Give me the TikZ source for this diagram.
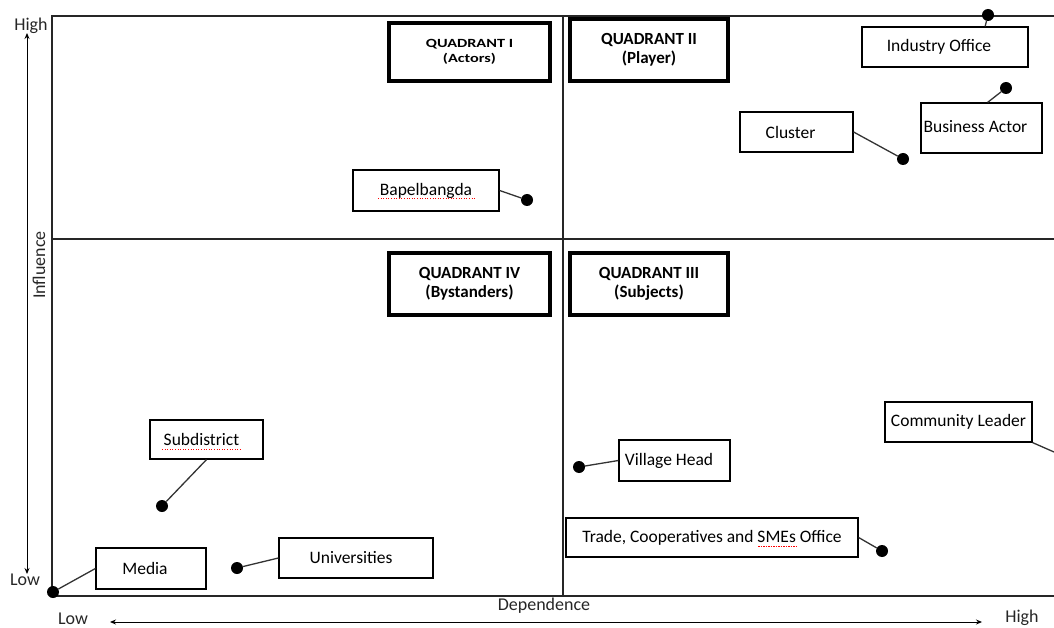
\documentclass[tikz,border=0pt]{standalone}
\usepackage{fontspec}
\setmainfont{Carlito}
\usetikzlibrary{arrows.meta,calc}
\tikzset{
  frame/.style={line width=1.4pt, draw=black!85},
  quad/.style={draw, line width=3.6pt, inner sep=0pt, align=center, font=\fontsize{17}{19}\selectfont\bfseries},
  lab/.style={draw, line width=1.2pt, inner sep=0pt, font=\fontsize{17.5}{19}\selectfont},
  dot/.style={circle, fill=black, inner sep=0pt, minimum size=12pt},
  conn/.style={line width=1.3pt, draw=black!80},
  axl/.style={font=\fontsize{18}{19}\selectfont, text=black!85},
  spell/.style={red, line width=0.8pt, dash pattern=on 1pt off 1.6pt},
  dbl/.style={line width=0.9pt, {Stealth[length=6pt,width=5pt]}-{Stealth[length=6pt,width=5pt]}}
}
\begin{document}
\begin{tikzpicture}[x=1pt,y=-1pt]
\useasboundingbox (0,0) rectangle (1054,628);
% frame
\coordinate (tl) at (52,16);
\coordinate (tr) at (1054,16);
\coordinate (bl) at (52,596);
\coordinate (br) at (1054,596);
\coordinate (mt) at (563,16);
\coordinate (mb) at (563,596);
\coordinate (ml) at (52,239);
\coordinate (mr) at (1054,239);
\draw[frame] (tr) -- (tl) -- (bl) -- (br);
\draw[frame] (mt) -- (mb);
\draw[frame] (ml) -- (mr);
% axes
\node[axl] (hiY) at (31,26) {High};
\node[axl] (loY) at (25,580) {Low};
\coordinate (ya) at (27,33);
\coordinate (yb) at (27,574);
\draw[dbl] (ya) -- (yb);
\node[axl, rotate=90] (infl) at (39,265) {Influence};
\node[axl] (loX) at (73,619) {Low};
\node[axl] (hiX) at (1022,618) {High};
\coordinate (xa) at (110,622);
\coordinate (xb) at (982,622);
\draw[dbl] (xa) -- (xb);
\node[axl] (dep) at (544,606) {Dependence};
% quadrant boxes
\node[quad, minimum width=161pt, minimum height=58pt, font=\fontsize{12.5}{15}\selectfont\bfseries] (q1) at (469.5,52) {\scalebox{1.3}[1]{QUADRANT I}\\\scalebox{1.3}[1]{(Actors)}};
\node[quad, minimum width=158pt, minimum height=62pt] (q2) at (649,50) {QUADRANT II\\(Player)};
\node[quad, minimum width=161pt, minimum height=62pt] (q4) at (469.5,284) {QUADRANT IV\\(Bystanders)};
\node[quad, minimum width=158pt, minimum height=62pt] (q3) at (649,284) {QUADRANT III\\(Subjects)};
% stakeholders
\node[lab, minimum width=166pt, minimum height=40pt] (ind) at (945,47) {\hspace{-12pt}Industry Office};
\node[dot] (dind) at (988,15) {};
\draw[conn] ($(ind.north west)!0.74!(ind.north east)$) -- (dind);

\node[lab, minimum width=121pt, minimum height=50pt] (bus) at (981.5,128) {\hspace{-12pt}\raisebox{4pt}{Business Actor}};
\node[dot] (dbus) at (1006,88) {};
\draw[conn] ($(bus.north west)!0.55!(bus.north east)$) -- (dbus);

\node[lab, minimum width=113pt, minimum height=40pt] (clu) at (796.5,132) {\hspace{-12pt}Cluster};
\node[dot] (dclu) at (903,159) {};
\draw[conn] (clu.east) -- (dclu);

\node[lab, minimum width=146pt, minimum height=41pt] (bap) at (426,190.5) {Bapelbangda};
\node[dot] (dbap) at (527,200) {};
\draw[conn] (bap.east) -- (dbap);
\draw[spell] ($(bap.center)+(-48,8)$) -- ($(bap.center)+(50,8)$);

\node[lab, minimum width=147pt, minimum height=40pt] (com) at (958.5,422) {Community Leader};
\coordinate (ecom) at (1054,452);
\draw[conn] (com.south east) -- (ecom);

\node[lab, minimum width=111pt, minimum height=41pt] (vil) at (674.5,460.5) {\hspace{-11pt}Village Head};
\node[dot] (dvil) at (579,467) {};
\draw[conn] (dvil) -- (vil.west);

\node[lab, minimum width=292pt, minimum height=39pt] (tra) at (712,537.5) {Trade, Cooperatives and SMEs Office};
\node[dot] (dtra) at (882,551) {};
\draw[conn] (tra.east) -- (dtra);
\draw[spell, dash pattern=on 1.5pt off 1pt] ($(tra.center)+(46,9)$) -- ($(tra.center)+(85,9)$);

\node[lab, minimum width=113pt, minimum height=39pt] (sub) at (206.5,439.5) {\hspace{-10pt}Subdistrict};
\node[dot] (dsub) at (162,506) {};
\draw[conn] (dsub) -- (sub.south);
\draw[spell] ($(sub.center)+(-44.5,9.5)$) -- ($(sub.center)+(34.5,9.5)$);

\node[lab, minimum width=110pt, minimum height=41pt] (med) at (151,568.5) {\hspace{-12pt}Media};
\node[dot] (dmed) at (53,592) {};
\draw[conn] (dmed) -- (med.west);

\node[lab, minimum width=154pt, minimum height=40pt] (uni) at (356,558) {\hspace{-10pt}Universities};
\node[dot] (duni) at (237,568) {};
\draw[conn] (duni) -- (uni.west);
\end{tikzpicture}
\end{document}
